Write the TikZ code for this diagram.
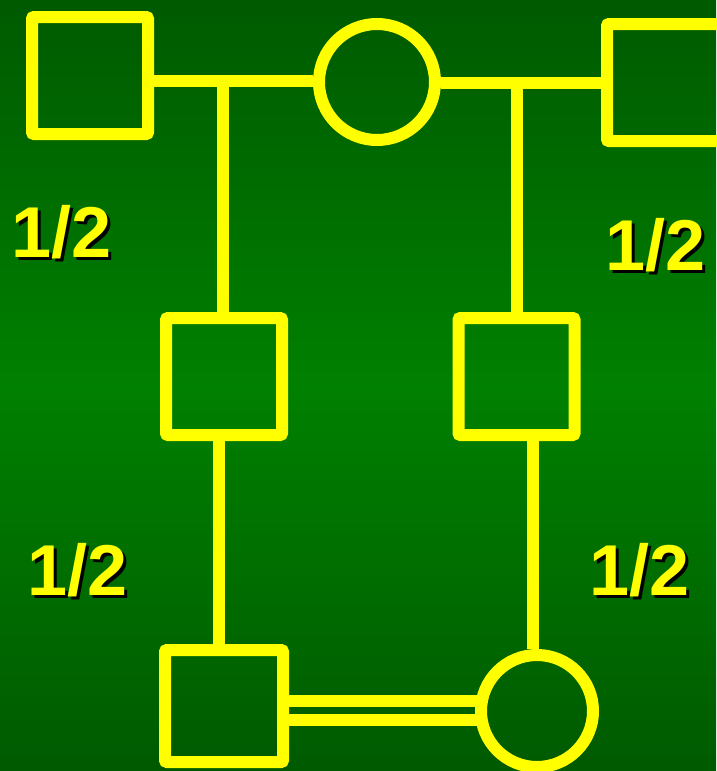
\documentclass[tikz,border=0pt]{standalone}
\usepackage{fontspec}
\setmainfont{Liberation Sans}
\definecolor{bgdark}{HTML}{005A00}
\definecolor{bgmid}{HTML}{008000}
\definecolor{pedyellow}{HTML}{FFFF00}
\newcommand{\shadowtext}[1]{\makebox[0pt][l]{\hspace{3pt}\raisebox{-3pt}{\color{black}#1}}#1}
\begin{document}
\begin{tikzpicture}[x=1pt,y=-1pt,
  ped/.style={draw=pedyellow,line width=12pt},
  male/.style={ped,rectangle,rounded corners=2pt,minimum width=116pt,minimum height=117pt,inner sep=0pt},
  female/.style={ped,circle,minimum size=114pt,inner sep=0pt},
  link/.style={pedyellow,line width=12pt},
  frac/.style={font=\bfseries\fontsize{72}{72}\selectfont,inner sep=0pt,text=pedyellow}]
\useasboundingbox (0,0) rectangle (716,771);
\shade[top color=bgdark,bottom color=bgdark,middle color=bgmid] (0,0) rectangle (716,771);
% nodes
\node[male] (tl) at (90,75.5) {};
\node[female,minimum size=116pt] (c1) at (377,82) {};
\node[male] (tr) at (665,82.5) {};
\node[male] (ml) at (224,376.5) {};
\node[male] (mr) at (516.5,376.5) {};
\node[male,minimum height=112pt,minimum width=118pt] (bl) at (224,706) {};
\node[female,minimum size=112pt] (c2) at (537,711) {};
% junctions
\coordinate (j1) at (223,81);
\coordinate (j2) at (517,83);
\coordinate (d1) at (219,0);
\coordinate (d2) at (533,0);
\coordinate (h1) at (0,701);
\coordinate (h2) at (0,720);
% connectors
\draw[link] (tl.east |- j1) -- (j1) -- (c1.west |- j1);
\draw[link] (j1) -- (j1 |- ml.north);
\draw[link] (c1.east |- j2) -- (j2) -- (tr.west |- j2);
\draw[link] (j2) -- (j2 |- mr.north);
\draw[link] (d1 |- ml.south) -- (d1 |- bl.north);
\draw[link] (d2 |- mr.south) -- (d2 |- c2.north);
\draw[link] (bl.east |- h1) -- ([xshift=2pt]c2.west |- h1);
\draw[link] (bl.east |- h2) -- ([xshift=2pt]c2.west |- h2);
% labels
\node[frac] (la) at (61.5,233.5) {\shadowtext{1/2}};
\node[frac] (lb) at (655.5,246.5) {\shadowtext{1/2}};
\node[frac] (lc) at (77.5,571.5) {\shadowtext{1/2}};
\node[frac] (ld) at (639.5,571.5) {\shadowtext{1/2}};
\end{tikzpicture}
\end{document}
